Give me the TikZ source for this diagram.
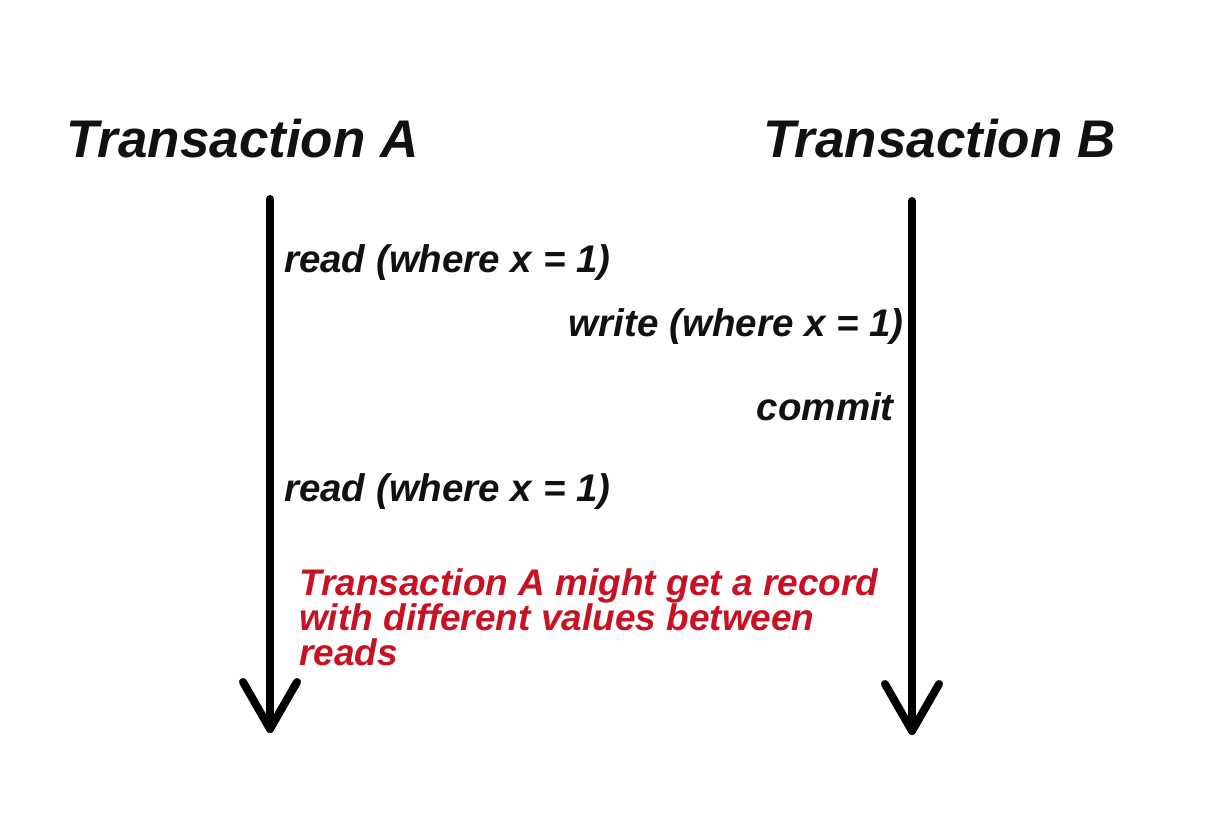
\documentclass[tikz,border=0pt]{standalone}
\usepackage{fontspec}
\setmainfont{Liberation Sans}
\definecolor{notered}{RGB}{200,18,36}
\definecolor{inkblack}{RGB}{17,17,17}
\tikzset{
  titlelbl/.style={anchor=base west,inner sep=0pt,text=inkblack,font=\fontsize{53}{56}\selectfont\bfseries\itshape},
  oplbl/.style={inner sep=0pt,text=inkblack,font=\fontsize{38.5}{40}\selectfont\bfseries\itshape},
  notelbl/.style={anchor=base west,inner sep=0pt,text=notered,align=left,font=\fontsize{37}{35}\selectfont\bfseries\itshape},
  timeline/.style={line width=8pt,line cap=round,line join=round,draw=black}
}
\begin{document}
\begin{tikzpicture}[x=1pt,y=-1pt]
\useasboundingbox (0,0) rectangle (1222,835);
\fill[white] (0,0) rectangle (1222,835);
% titles
\node[titlelbl] (ta) at (66,157) {Transaction A};
\node[titlelbl] (tb) at (763,157) {Transaction B};
% timelines
\coordinate (as) at (270,199);
\coordinate (ae) at (270,729);
\coordinate (bs) at (912,201);
\coordinate (be) at (912,731);
\draw[timeline] (as) -- (ae);
\draw[timeline] ([shift={(-27,-47)}]ae) -- (ae) -- ([shift={(27,-47)}]ae);
\draw[timeline] (bs) -- (be);
\draw[timeline] ([shift={(-27,-47)}]be) -- (be) -- ([shift={(27,-47)}]be);
% operations
\node[oplbl,anchor=base west] (r1) at (284,272) {read (where x = 1)};
\node[oplbl,anchor=base east] (w1) at (904,336) {write (where x = 1)};
\node[oplbl,anchor=base east] (c1) at (894,420) {commit};
\node[oplbl,anchor=base west] (r2) at (284,501) {read (where x = 1)};
% note
\node[notelbl] (note) at (299,665) {Transaction A might get a record\\with different values between\\reads};
\end{tikzpicture}
\end{document}
